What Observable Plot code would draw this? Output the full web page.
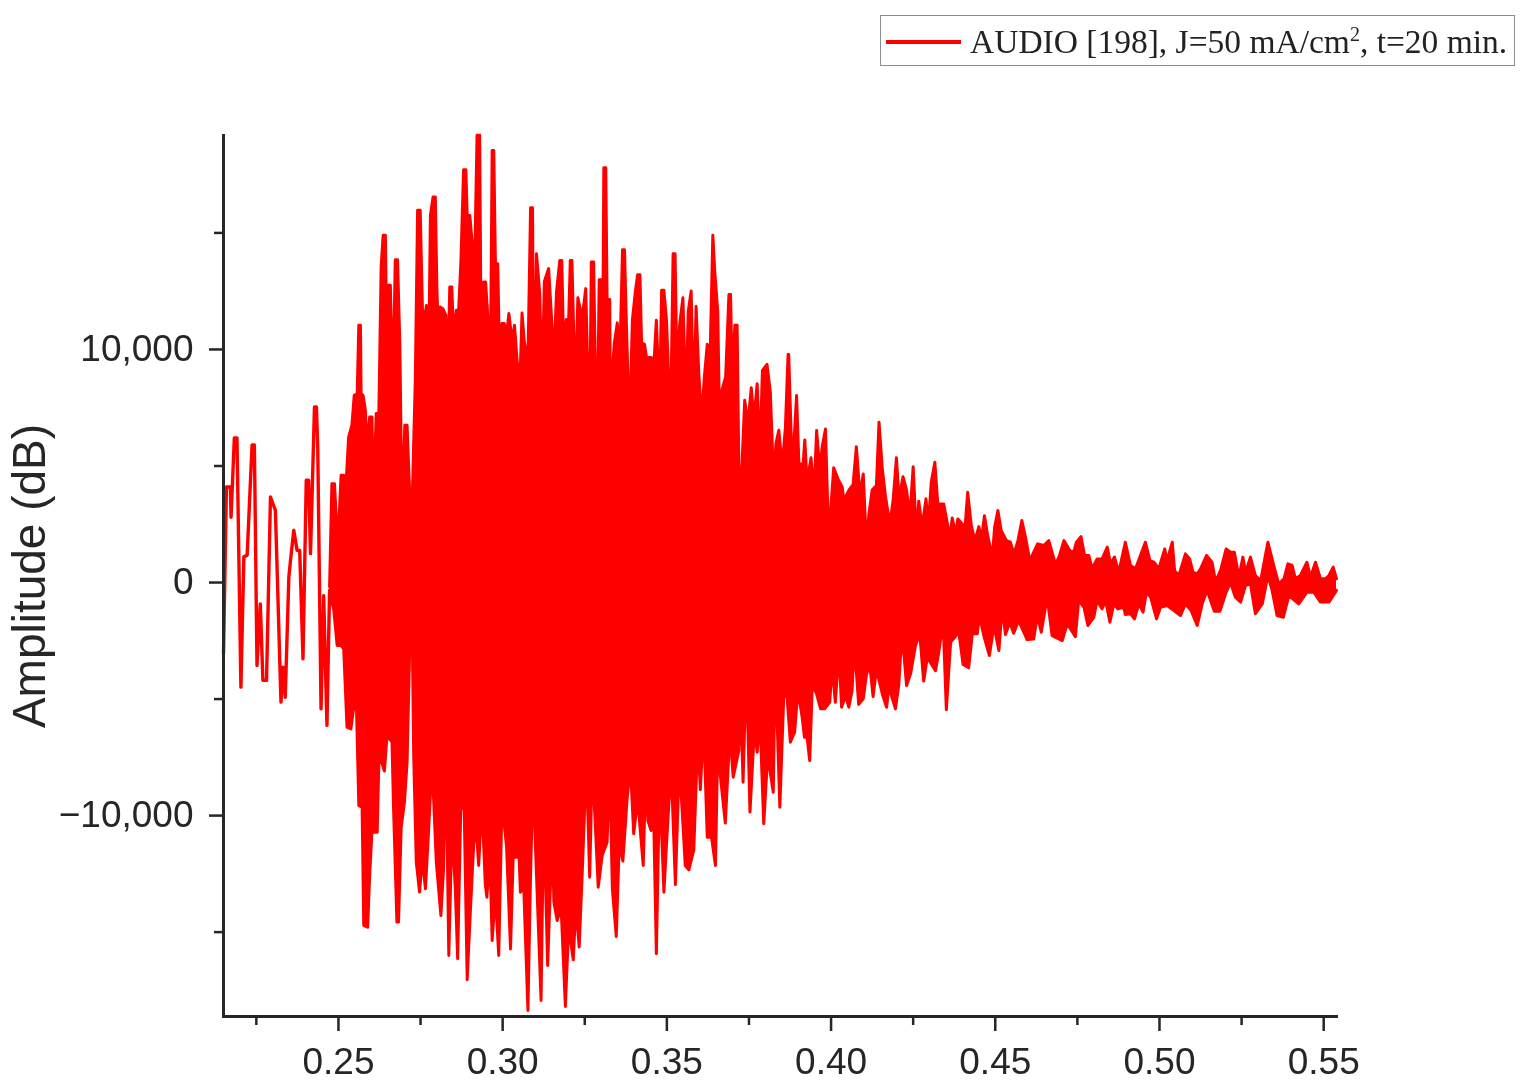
<!DOCTYPE html>
<html><head><meta charset="utf-8">
<style>
html,body{margin:0;padding:0;background:#fff;}
#wrap{position:relative;width:1530px;height:1090px;overflow:hidden;filter:blur(0.5px);}
#legend{position:absolute;left:880px;top:15px;width:633px;height:49px;border:1.5px solid #8c8c8c;background:#fff;box-sizing:content-box;}
#legend .key{position:absolute;left:5px;top:24px;width:75px;height:3.5px;background:#ff0000;}
#legend .txt{position:absolute;left:89px;top:8px;font:33.5px "Liberation Serif",serif;color:#222;white-space:nowrap;line-height:36px;}
#legend sup{font-size:20px;line-height:0;}
svg{display:block;}
</style>
<script src="https://cdn.jsdelivr.net/npm/d3@7"></script>
<script src="https://cdn.jsdelivr.net/npm/@observablehq/plot@0.6"></script>
</head><body>
<div id="wrap"><div id="chart"></div>
<div id="legend"><div class="key"></div><div class="txt">AUDIO [198], J=50 mA/cm<sup>2</sup>, t=20 min.</div></div>
</div>
<script>
const majorXTicks=[0.25,0.30,0.35,0.40,0.45,0.50,0.55];
const minorXTicks=[0.225,0.275,0.325,0.375,0.425,0.475,0.525];
const majorYTicks=[-10000,0,10000];
const minorYTicks=[-15000,-5000,5000,15000];

// times in milliseconds, amplitudes in chart units
const earlyT=[215.0,215.9,217.1,217.3,218.3,219.1,220.3,221.2,222.2,223.7,224.4,225.2,226.2,227.0,228.1,229.3,230.8,232.5,233.1,233.8,234.9,235.4,236.4,237.4,238.2,239.2,240.2,240.9,241.5,242.7,243.3,243.7,244.7,245.5,246.5,247.3];
const earlyV=[-3060,4100,4100,2800,6200,6200,-4490,1100,1170,5900,5900,-3560,-915,-4200,-4200,3670,3100,-5130,-3630,-4920,240,950,2240,1380,1380,-3270,4390,4390,1240,7530,7530,5740,-5420,-560,-6130,-340];

const upperT=[247.3,248.0,248.8,249.8,250.8,251.6,252.1,253.1,254.1,254.8,255.7,256.2,256.7,256.9,257.5,258.2,258.7,259.5,260.2,260.7,261.5,262.3,263.0,263.6,264.3,264.6,265.3,265.8,266.6,267.3,268.0,268.7,269.4,270.2,270.9,271.6,272.3,272.9,273.4,274.1,274.9,275.7,276.8,277.5,278.0,278.8,279.5,280.0,280.5,281.0,281.8,282.7,283.3,283.9,284.5,285.1,285.9,286.6,287.3,288.1,288.8,289.2,290.0,290.7,291.2,292.2,293.0,293.4,294.2,294.8,295.8,296.3,296.8,297.3,297.8,298.5,299.1,299.8,300.5,301.1,
301.9,302.9,303.6,304.4,305.2,305.9,306.6,307.7,308.5,309.1,309.5,310.3,311.3,312.0,312.7,314.0,315.1,315.8,316.4,317.4,318.0,318.6,319.4,320.1,320.6,321.1,321.7,322.5,322.9,323.7,324.5,325.3,325.9,326.5,327.0,327.7,328.3,329.0,329.4,330.0,330.4,330.8,331.4,331.8,332.6,332.8,333.3,334.0,334.9,335.7,336.5,337.1,337.7,338.3,338.9,339.5,340.4,341.1,341.8,342.3,343.2,343.8,345.2,345.6,346.2,346.8,347.8,348.4,349.1,349.9,350.6,351.3,351.9,352.5,353.1,353.9,354.9,355.8,356.5,357.4,358.2,358.9,359.7,360.6,361.4,362.3,363.1,364.0,364.6,365.5,366.1,366.8,367.9,368.9,369.4,369.9,370.7,371.4,372.0,372.8,373.7,374.7,375.7,376.5,377.5,378.3,379.1,380.5,381.5,382.6,383.2,384.1,385.1,386.1,386.9,387.1,388.2,389.5,390.2,391.5,392.0,392.7,393.9,394.8,395.6,396.6,397.3,398.3,399.1,399.8,400.8,402.1,403.4,403.9,405.4,406.7,407.7,408.8,409.8,410.8,411.5,412.5,413.8,414.6,415.6,416.6,417.9,418.9,419.9,420.7,421.9,423.0,424.0,425.0,426.0,426.7,427.7,428.9,429.6,430.5,431.6,432.5,434.3,435.1,436.2,436.9,437.9,438.6,439.9,440.6,441.6,442.7,443.8,445.0,445.8,446.7,447.7,449.1,449.8,450.8,451.8,453.4,454.6,455.7,456.9,458.1,459.2,460.5,461.7,462.9,464.8,466.3,468.3,469.4,470.9,472.7,473.9,474.7,476.1,477.2,478.5,479.5,481.0,482.5,484.1,485.1,486.3,487.6,489.6,491.2,492.7,494.2,495.7,497.1,498.3,499.8,501.6,502.3,503.9,504.6,505.9,507.9,509.2,510.2,511.5,512.5,514.3,516.0,517.05,518.6,520.3,521.6,522.8,524.2,525.4,526.2,527.7,529.2,530.8,533.0,534.8,536.3,537.9,539.1,540.4,541.4,542.9,544.9,546.0,547.5,549.0,550.5,551.6,552.9,553.9];
const upperV=[-190,4240,4240,1530,4600,4600,3670,6240,6750,8030,8100,11040,11040,8100,8030,7390,5740,7100,7100,3670,7250,7250,13540,14900,14900,11390,12750,12750,8250,13850,13850,10180,2670,6750,6750,4170,2530,5960,8680,15970,15970,10970,11890,9750,15750,16540,16540,12470,10680,11820,11750,11460,9250,12680,12680,10610,11680,11680,13820,17710,17710,15750,15750,14610,11610,19190,19190,11250,12890,12890,10750,9540,18540,18540,13680,13680,9460,11110,11110,10530,
11540,10320,11040,9540,8320,11560,10320,9540,16080,16080,7170,14110,12390,8390,12920,13470,10820,10250,12470,13820,13820,9890,11290,11290,13820,13820,10320,10180,12220,11680,11680,12610,9250,6820,13750,13750,8530,8530,12990,12990,8530,17800,17800,12140,12140,7820,8820,10280,11140,9750,14280,14280,10970,8030,8100,11250,12470,13210,13210,10280,10220,9650,9650,9030,9750,11250,7820,12540,12540,11250,8500,8530,14110,14110,8890,11080,12220,7530,11610,12510,7390,11850,9030,7030,8790,10220,9320,14900,13320,11610,6320,8280,8820,12360,12360,8750,11040,11040,3960,4790,7820,6820,8360,6960,8530,5460,9100,9360,8180,4030,5960,6530,4960,6670,9780,9780,4730,8020,5090,5090,6120,4300,5350,3800,6520,4800,5830,6590,2730,2940,4920,4450,4090,3520,3950,4200,5830,3730,4660,1510,2910,3970,4160,6880,4870,3660,2520,3540,5350,3590,4540,3950,2800,4970,1940,3490,2370,3590,2440,4300,5160,3370,3370,2770,1940,2770,2090,2730,2520,2010,3870,2440,1800,2400,1870,2870,2010,1085,2370,3090,2230,1800,1730,1230,1800,2660,1940,940,1300,1660,1590,1800,800,1085,1800,1370,1300,1730,1970,1160,1160,590,1010,1010,1520,800,1090,440,1730,730,590,1160,1730,940,870,590,1440,940,1730,510,300,1230,1010,440,370,590,1160,870,50,520,1440,1300,1300,230,1090,440,1090,300,80,1730,730,-60,160,800,730,160,300,870,230,870,160,160,300,660,160];

const lowerT=[247.3,248.6,249.6,250.8,251.6,252.6,253.8,254.6,255.5,256.2,257.2,257.7,258.9,259.5,260.2,261.8,262.5,263.0,264.0,264.8,266.3,266.8,267.8,268.3,269.1,270.1,270.9,271.9,272.4,272.9,273.7,274.7,275.5,276.5,277.5,278.5,279.8,281.2,282.0,282.7,283.6,284.6,285.6,286.3,287.3,288.3,289.2,290.2,291.2,291.9,292.7,293.7,294.7,295.2,296.1,296.8,297.8,298.8,299.8,301.2,302.4,303.2,304.4,304.6,305.4,306.4,307.7,308.5,309.3,309.9,310.7,311.7,312.5,313.7,315.1,315.6,316.6,317.8,319.1,320.1,321.5,322.3,323.3,324.2,325.5,326.5,327.3,328.1,329.1,330.3,331.8,332.6,333.4,334.6,335.5,336.6,337.9,338.9,339.9,341.1,342.8,343.7,344.2,345.2,345.8,346.8,347.8,349.1,349.9,351.3,352.6,353.8,354.6,355.6,356.7,358.2,359.4,360.2,361.2,362.3,363.6,364.8,365.5,366.3,367.8,369.2,370.2,371.9,372.4,373.2,374.2,375.3,376.7,377.5,378.3,379.5,380.7,382.4,383.0,384.4,385.6,386.6,387.6,388.9,389.9,391.2,391.9,392.7,393.5,394.3,395.6,396.8,398.0,399.6,400.3,401.3,402.4,403.2,404.4,405.4,406.4,407.1,408.4,409.8,410.8,411.8,412.8,413.8,415.6,416.9,417.6,419.6,420.6,421.6,423.0,424.2,425.7,427.0,428.2,429.3,431.8,432.8,434.1,435.1,436.4,438.9,440.2,441.9,443.0,444.5,445.2,446.5,448.2,449.6,451.1,452.1,453.1,454.4,455.6,457.1,459.7,461.7,462.8,464.0,465.8,467.3,470.4,471.9,472.9,474.4,475.4,477.0,478.2,480.0,481.0,482.5,483.6,484.9,486.1,487.3,489.1,489.6,491.2,492.4,493.7,495.0,496.0,497.3,499.1,500.3,502.3,504.4,506.4,507.9,509.6,511.5,513.0,514.5,516.7,518.4,520.1,521.6,523.1,524.7,526.2,527.7,529.2,531.3,533.0,534.3,535.8,537.7,539.4,542.4,544.9,547.0,549.0,551.6,553.9];
const lowerV=[-340,-1200,-2700,-2700,-2850,-6200,-6280,-5420,-5420,-9570,-9640,-14710,-14790,-12570,-10710,-10710,-6560,-7640,-8090,-6560,-6850,-9780,-14570,-14570,-10500,-9420,-7710,-1630,-1270,-7350,-12000,-13280,-11850,-13140,-10500,-7710,-12000,-14290,-12280,-6990,-16000,-10420,-13210,-16140,-9350,-9780,-17040,-14000,-11210,-10420,-12140,-9420,-12930,-13500,-11640,-15360,-13360,-16000,-9420,-11350,-15720,-11790,-11790,-10210,-13290,-13000,-18360,-12500,-8140,-10990,-14070,-17930,-9780,-16430,-10780,-13710,-14500,-13930,-18190,-14760,-16190,-13860,-15640,-12570,-7710,-12640,-7710,-10070,-13070,-11710,-11140,-7850,-13140,-15190,-11210,-11950,-9280,-7850,-10780,-9280,-12140,-7560,-10210,-10640,-8710,-15930,-8490,-13290,-11210,-7850,-12960,-7710,-9640,-12140,-12330,-11470,-6710,-8890,-6090,-10930,-10930,-12140,-6920,-8320,-10320,-6420,-8350,-7210,-4630,-8570,-3560,-9850,-6210,-7280,-5710,-10350,-7420,-9000,-3350,-9640,-4850,-4920,-6850,-6420,-4640,-5780,-6640,-6640,-7640,-4350,-4780,-5420,-5420,-5140,-3560,-5140,-2920,-5350,-4850,-5350,-4640,-2630,-5230,-4990,-3920,-3560,-4890,-3710,-4780,-5350,-4490,-5420,-4420,-2130,-4420,-3920,-2700,-2200,-4230,-3210,-3780,-2990,-1630,-5460,-2560,-2130,-3520,-3660,-2200,-2200,-1420,-2280,-3130,-1850,-2920,-1060,-2230,-1700,-2180,-1630,-2450,-2420,-1420,-2130,-630,-2280,-2490,-1770,-1990,-2320,-770,-1060,-1840,-1490,-770,-1130,-770,-1700,-915,-1130,-1060,-1370,-1340,-1560,-915,-1270,-415,-630,-1560,-1060,-990,-1200,-1415,-915,-1200,-1840,-915,-340,-1230,-1230,-490,10,-630,-840,-130,-60,-1340,-915,300,-340,-1415,-1490,-560,-915,-415,-415,-840,-840,-340];

const toRows=(ts,vs)=>ts.map((t,i)=>({t:t/1000,v:vs[i]}));
const early=toRows(earlyT,earlyV), upper=toRows(upperT,upperV), lower=toRows(lowerT,lowerV);
const RED="#ff0000", INK="#262626", LW=3;
const tickFont="Liberation Sans, Arial, sans-serif";

const plot=Plot.plot({
  width:1530,height:1090,
  marginLeft:223,marginRight:194,marginTop:135,marginBottom:74,
  style:{background:"#fff",fontFamily:tickFont,color:INK,overflow:"visible"},
  x:{domain:[0.215,0.5539],label:null},
  y:{domain:[-18620,19180],label:null},
  marks:[
    Plot.areaY(upper,{x:"t",y:"v",fill:RED}),
    Plot.areaY(lower,{x:"t",y:"v",fill:RED}),
    Plot.line(early,{x:"t",y:"v",stroke:RED,strokeWidth:3.4}),
    Plot.line(upper,{x:"t",y:"v",stroke:RED,strokeWidth:LW}),
    Plot.line(lower,{x:"t",y:"v",stroke:RED,strokeWidth:LW}),
    Plot.axisX({ticks:minorXTicks,tickSize:9,tickFormat:()=>"",label:null,strokeWidth:2.5,stroke:INK}),
    Plot.axisX({ticks:majorXTicks,tickSize:15,tickPadding:16,tickFormat:d3.format(".2f"),fontSize:37,label:null,strokeWidth:2.5,stroke:INK,fill:INK}),
    Plot.axisY({ticks:minorYTicks,tickSize:9,tickFormat:()=>"",label:null,strokeWidth:2.5,stroke:INK}),
    Plot.axisY({ticks:majorYTicks,tickSize:14,tickPadding:16,tickFormat:d3.format(","),fontSize:37,label:null,strokeWidth:2.5,stroke:INK,fill:INK}),
    Plot.axisY({ticks:[],label:"Amplitude (dB)",labelArrow:"none",labelAnchor:"center",labelOffset:211,fontSize:46,fill:INK,tickSize:0}),
    Plot.frame({anchor:"left",stroke:INK,strokeWidth:3}),
    Plot.frame({anchor:"bottom",stroke:INK,strokeWidth:3})
  ]
});
document.getElementById("chart").appendChild(plot);
</script>
</body></html>
